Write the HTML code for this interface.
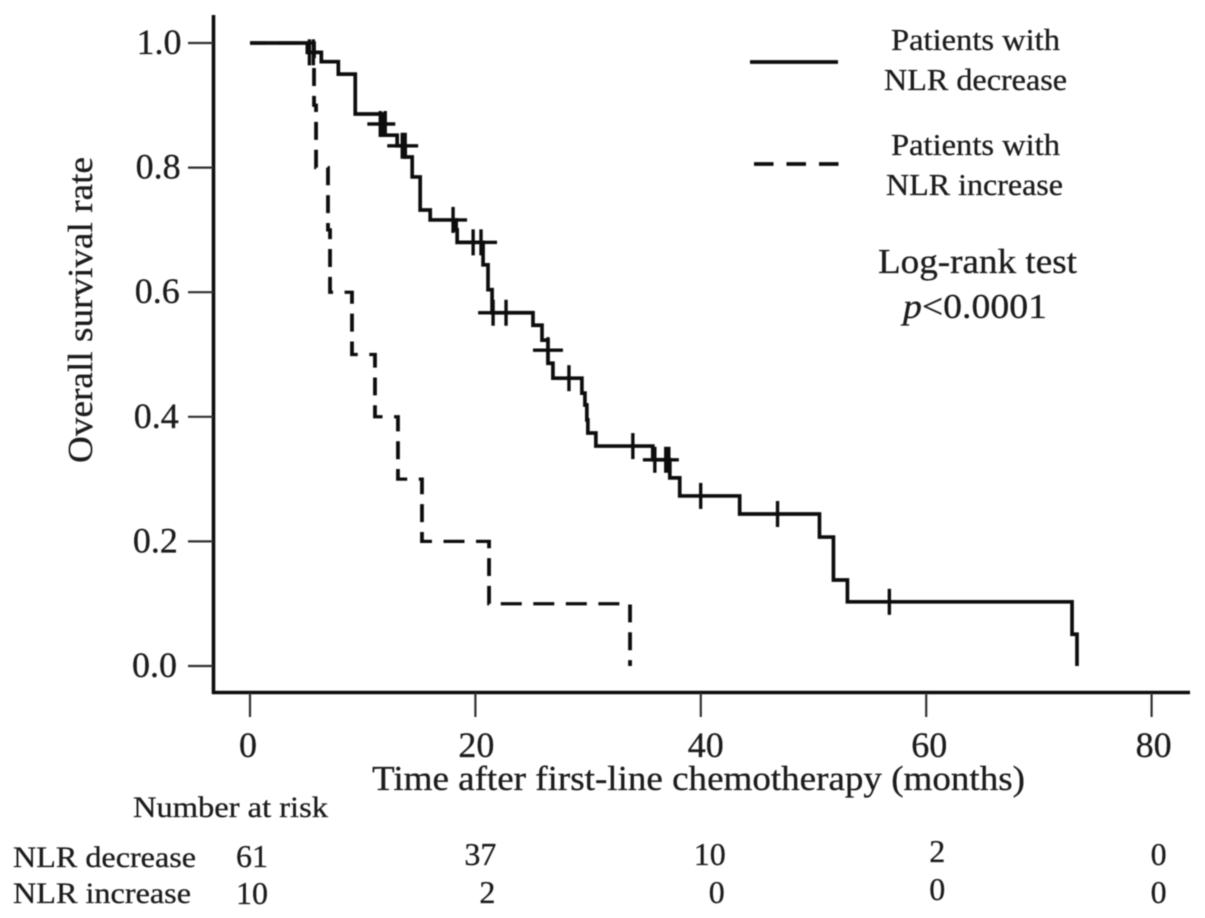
<!DOCTYPE html>
<html lang="en">
<head>
<meta charset="utf-8">
<title>Overall survival by NLR change</title>
<style>
html,body{margin:0;padding:0;background:#fff;}
svg{display:block;font-family:"Liberation Serif",serif;fill:#1c1c1c;}
text{stroke:#1c1c1c;stroke-width:0.3px;}
</style>
</head>
<body>
<svg id="chart" xmlns="http://www.w3.org/2000/svg" width="1205" height="918" viewBox="0 0 1205 918">
  <defs><filter id="soft" x="-2%" y="-2%" width="104%" height="104%"><feGaussianBlur stdDeviation="0.5"/></filter></defs>
  <rect width="1205" height="918" fill="#fff"/>
  <g id="root" filter="url(#soft)">
    <text transform="translate(92,463) rotate(-90)" font-size="35" textLength="306" lengthAdjust="spacingAndGlyphs">Overall survival rate</text>
    <text x="372" y="790" font-size="35" textLength="653" lengthAdjust="spacingAndGlyphs">Time after first-line chemotherapy (months)</text>

    <line x1="750" y1="62" x2="838" y2="62" stroke="#111" stroke-width="3.8"/>
    <line x1="754" y1="164" x2="840" y2="164" stroke="#111" stroke-width="3.8" stroke-dasharray="19.5 13"/>
    <text x="891" y="50" font-size="31" textLength="169" lengthAdjust="spacingAndGlyphs">Patients with</text>
    <text x="884" y="90" font-size="31" textLength="183" lengthAdjust="spacingAndGlyphs">NLR decrease</text>
    <text x="891" y="155" font-size="31" textLength="169" lengthAdjust="spacingAndGlyphs">Patients with</text>
    <text x="886" y="195" font-size="31" textLength="177" lengthAdjust="spacingAndGlyphs">NLR increase</text>
    <text x="878" y="273" font-size="35" textLength="199" lengthAdjust="spacingAndGlyphs">Log-rank test</text>
    <text x="903" y="318" font-size="35" textLength="144" lengthAdjust="spacingAndGlyphs"><tspan font-style="italic">p</tspan>&lt;0.0001</text>

    <text x="133" y="817" font-size="30" textLength="195" lengthAdjust="spacingAndGlyphs">Number at risk</text>
    <text x="13" y="867" font-size="30" textLength="183" lengthAdjust="spacingAndGlyphs">NLR decrease</text>
    <text x="13" y="903" font-size="30" textLength="178" lengthAdjust="spacingAndGlyphs">NLR increase</text>
  </g>
</svg>
<script>
// Chart data
const xTicks = [0, 20, 40, 60, 80];
const yTicks = [0, 0.2, 0.4, 0.6, 0.8, 1.0];

const decreaseTimes = [0, 5.09, 6.33, 7.84, 9.34, 11.82, 13.06, 13.77, 14.39, 15.1, 15.99, 18.29, 18.38, 20.68, 21.12, 21.48, 25.11, 25.91, 26.44, 26.88, 29.45, 29.72, 29.89, 29.98, 30.69, 35.74, 37.25, 38.13, 43.45, 50.53, 51.77, 53.01, 72.94, 73.38];
const decreaseSurvival = [1, 0.985, 0.97, 0.95, 0.886, 0.852, 0.835, 0.817, 0.785, 0.732, 0.716, 0.70, 0.68, 0.644, 0.604, 0.567, 0.547, 0.523, 0.486, 0.462, 0.438, 0.419, 0.395, 0.374, 0.353, 0.331, 0.302, 0.273, 0.244, 0.207, 0.138, 0.103, 0.051, 0];

const increaseTimes = [0, 5.68, 5.86, 6.92, 7.1, 9.05, 11.09, 13.13, 15.26, 21.21, 33.72];
const increaseSurvival = [1, 0.9, 0.8, 0.7, 0.6, 0.5, 0.4, 0.3, 0.2, 0.1, 0];

const censorTimes = [5.27, 5.62, 11.56, 12.0, 13.51, 13.77, 18.02, 19.8, 20.5, 21.57, 22.72, 26.44, 28.3, 33.97, 35.92, 36.89, 37.16, 39.99, 46.81, 56.73];
const censorSurvival = [0.985, 0.985, 0.87, 0.87, 0.835, 0.835, 0.716, 0.68, 0.68, 0.567, 0.567, 0.507, 0.462, 0.353, 0.331, 0.331, 0.331, 0.273, 0.244, 0.103];

const spanFrom = [10.41, 12.18, 18.02, 20.59, 20.24, 25.11, 34.86];
const spanTo = [12.89, 14.92, 19.26, 21.92, 21.48, 27.77, 38.05];
const spanSurvival = [0.87, 0.835, 0.716, 0.68, 0.567, 0.507, 0.331];

const riskColumns = [0, 20, 40, 60, 80];
const riskDecrease = [61, 37, 10, 2, 0];
const riskIncrease = [10, 2, 0, 0, 0];

// Axis functions
const xScale = t => 250 + t * 11.27;
const yScale = s => 666 - s * 623;

const NS = 'http://www.w3.org/2000/svg';
const root = document.getElementById('root');
function make(tag, attrs, text) {
  const el = document.createElementNS(NS, tag);
  for (const k in attrs) el.setAttribute(k, attrs[k]);
  if (text !== undefined) el.textContent = text;
  root.appendChild(el);
  return el;
}

// Axis lines
const yAxisLine = make('line', {x1: 213.5, y1: 15, x2: 213.5, y2: 694, stroke: '#111', 'stroke-width': 3.6});


const xAxisLine = make('line', {x1: 212, y1: 692.5, x2: 1190, y2: 692.5, stroke: '#111', 'stroke-width': 3.6});



// Hand-placed label nudges, as in the source figure
const xLabelNudge = [-2, 1, 5, 3, 2];
xTicks.forEach((v, i) => {
  const tick = make('line', {x1: xScale(v), y1: 693, x2: xScale(v), y2: 717, stroke: '#333', 'stroke-width': 2.2});
  
  
  const label = make('text', {x: xScale(v) + xLabelNudge[i], y: 757, 'font-size': 36, 'text-anchor': 'middle'}, String(v));
  
  
});
yTicks.forEach(v => {
  const tick = make('line', {x1: 188, y1: yScale(v), x2: 213, y2: yScale(v), stroke: '#333', 'stroke-width': 2.2});
  
  
  const label = make('text', {x: 177 + v * 4.5, y: yScale(v) + 11, 'font-size': 36, 'text-anchor': 'end'}, v.toFixed(1));
  
  
});

// Step curves
function stepPath(times, surv, yFactor) {
  let d = 'M' + xScale(times[0]) + ' ' + yScale(surv[0]) * yFactor;
  for (let i = 1; i < times.length; i++) {
    d += 'H' + xScale(times[i]) + 'V' + yScale(surv[i]) * yFactor;
  }
  return d;
}

// The dash rhythm is tighter vertically than horizontally, so the dashed curve is drawn in a y-stretched frame.
const dashStretch = 1.17;
const increaseCurve = make('path', {
  d: stepPath(increaseTimes, increaseSurvival, dashStretch),
  transform: 'scale(1,' + (1 / dashStretch) + ')',
  fill: 'none', stroke: '#111', 'stroke-width': 3.8,
  'stroke-dasharray': '21 11.54', 'stroke-dashoffset': 4.34
});



const decreaseCurve = make('path', {
  d: stepPath(decreaseTimes, decreaseSurvival, 1),
  fill: 'none', stroke: '#111', 'stroke-width': 3.7
});



censorTimes.forEach((t, i) => {
  const mark = make('line', {x1: xScale(t), y1: yScale(censorSurvival[i]) - 13, x2: xScale(t), y2: yScale(censorSurvival[i]) + 13, stroke: '#111', 'stroke-width': 3.4});
  
  
});
spanFrom.forEach((t, i) => {
  const span = make('line', {x1: xScale(t), y1: yScale(spanSurvival[i]), x2: xScale(spanTo[i]), y2: yScale(spanSurvival[i]), stroke: '#111', 'stroke-width': 3.4});
  
  
});

// Risk table, with the source figure's hand-placed nudges
const topRowNudgeX = [2, 5, 9, 11, 7];
const topRowNudgeY = [0, -2, -2, -5, -2];
const bottomRowNudgeX = [2, 12, 16, 11, 7];
const bottomRowNudgeY = [0, -1, -1, -4, -1];
riskColumns.forEach((c, i) => {
  const a = make('text', {x: xScale(c) + topRowNudgeX[i], y: 867 + topRowNudgeY[i], 'font-size': 32, 'text-anchor': 'middle'}, String(riskDecrease[i]));
  
  
  const b = make('text', {x: xScale(c) + bottomRowNudgeX[i], y: 904 + bottomRowNudgeY[i], 'font-size': 32, 'text-anchor': 'middle'}, String(riskIncrease[i]));
  
  
});
</script>
</body>
</html>
